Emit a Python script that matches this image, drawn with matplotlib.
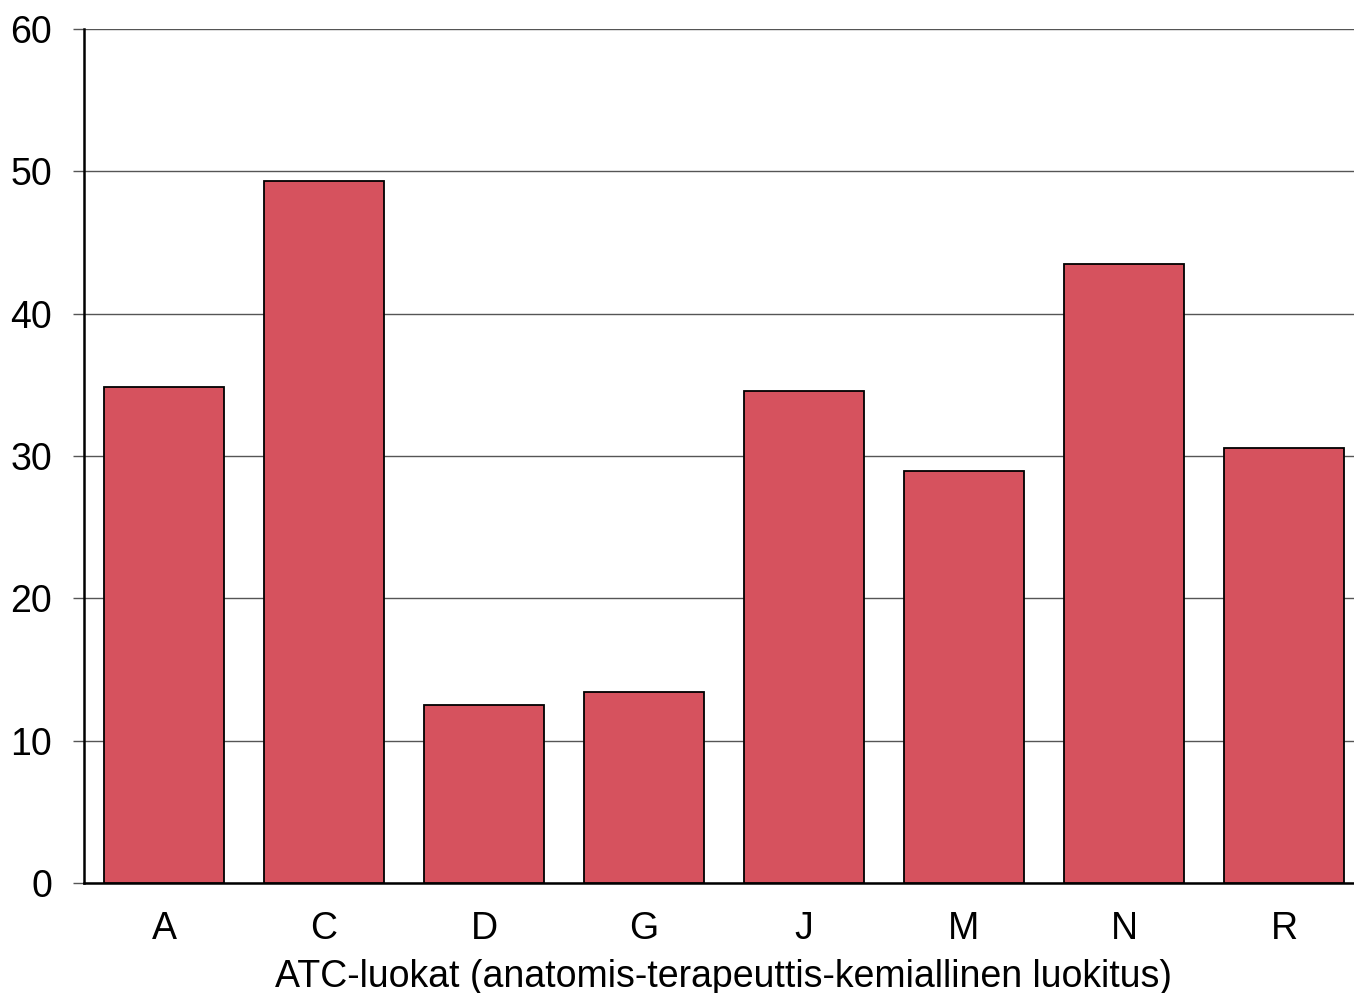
import matplotlib
matplotlib.use("Agg")
import matplotlib.pyplot as plt

# ATC classes and their values
categories = ["A", "C", "D", "G", "J", "M", "N", "R"]
values = [34.85, 49.3, 12.5, 13.4, 34.6, 28.95, 43.5, 30.55]
yticks = [0, 10, 20, 30, 40, 50, 60]
xlabel = "ATC-luokat (anatomis-terapeuttis-kemiallinen luokitus)"

plt.rcParams['font.family'] = ['Liberation Sans', 'DejaVu Sans']

fig = plt.figure(figsize=(13.54, 9.93), dpi=100)
# axes deliberately runs past the right edge, as in the original
ax = fig.add_axes([84 / 1354, 1 - 883 / 993, 1280 / 1354, (883 - 29) / 993])

ax.bar(range(len(categories)), values, width=0.75, color="#D6525E",
       edgecolor="black", linewidth=1.3, zorder=3)

ax.set_xlim(-0.5, len(categories) - 0.5)
ax.set_ylim(0, 60)
ax.set_yticks(yticks)
ax.set_xticks(range(len(categories)))
ax.set_xticklabels(categories)

ax.grid(axis="y", color="#555555", linewidth=1.0, zorder=0)
for side in ["top", "right"]:
    ax.spines[side].set_visible(False)
ax.spines["left"].set_linewidth(1.8)
ax.spines["bottom"].set_linewidth(1.8)

ax.tick_params(axis="y", length=8, width=1, color="#555555", pad=15, labelsize=27)
ax.tick_params(axis="x", length=0, pad=20, labelsize=27)
ax.set_xlabel(xlabel, fontsize=27, labelpad=9)

fig.savefig("out.png", dpi=100)
